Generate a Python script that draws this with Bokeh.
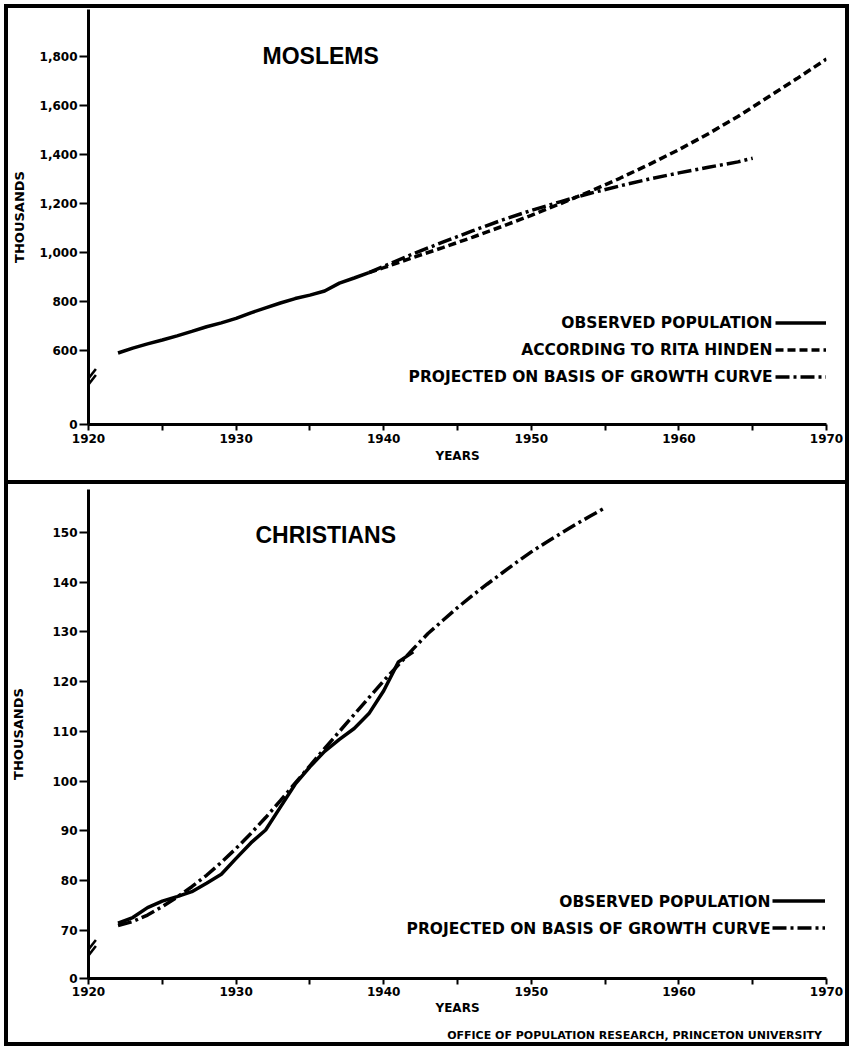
import numpy as np
from bokeh.plotting import figure
from bokeh.models import (Range1d, FixedTicker, Label, Legend, LegendItem, Div,
                          NumeralTickFormatter)
from bokeh.layouts import column
from bokeh.embed import file_html
from bokeh.resources import INLINE

# ---------------- data ----------------
moslem_obs_years = [1922, 1923, 1924, 1925, 1926, 1927, 1928, 1929, 1930, 1931,
                    1932, 1933, 1934, 1935, 1936, 1937, 1938, 1939]
moslem_obs = [590, 610, 627, 643, 660, 678, 697, 713, 731, 754,
              774, 794, 812, 826, 843, 875, 896, 918]

hinden_years = [1939, 1940, 1942, 1944, 1946, 1948, 1950, 1952, 1954, 1956,
                1958, 1960, 1962, 1964, 1966, 1968, 1970]
hinden = [918, 938, 980, 1020, 1062, 1106, 1152, 1200, 1250, 1303,
          1360, 1420, 1485, 1555, 1633, 1710, 1790]

moslem_proj_years = [1939, 1940, 1942, 1944, 1946, 1948, 1950, 1952, 1954, 1956,
                     1958, 1960, 1962, 1964, 1965]
moslem_proj = [918, 944, 995, 1042, 1088, 1132, 1172, 1208, 1242, 1272,
               1300, 1325, 1348, 1370, 1385]

christ_obs_years = [1922, 1923, 1924, 1925, 1926, 1927, 1928, 1929, 1930, 1931,
                    1932, 1933, 1934, 1935, 1936, 1937, 1938, 1939, 1940, 1941, 1942]
christ_obs = [71.5, 72.6, 74.6, 75.9, 76.8, 77.8, 79.5, 81.3, 84.5, 87.6,
              90.2, 94.8, 99.4, 102.9, 106.0, 108.4, 110.6, 113.6, 118.2, 124.0, 126.0]

christ_proj_years = [1922, 1923, 1924, 1925, 1926, 1927, 1928, 1929, 1930, 1931,
                     1932, 1933, 1934, 1935, 1936, 1937, 1938, 1939, 1940, 1941,
                     1942, 1943, 1944, 1945, 1946, 1947, 1948, 1949, 1950, 1951,
                     1952, 1953, 1954, 1955]
christ_proj = [71.0, 71.8, 73.1, 74.8, 76.7, 78.8, 81.1, 83.7, 86.5, 89.5,
               92.7, 96.1, 99.6, 103.1, 106.6, 110.0, 113.4, 116.8, 120.2, 123.4,
               126.6, 129.7, 132.3, 134.9, 137.3, 139.6, 141.8, 144.0, 146.1, 148.0,
               149.8, 151.6, 153.3, 155.0]

year_ticks = [1920, 1930, 1940, 1950, 1960, 1970]
year_minor_ticks = [1925, 1935, 1945, 1955, 1965]
moslem_ticks = [600, 800, 1000, 1200, 1400, 1600, 1800]
christ_ticks = [70, 80, 90, 100, 110, 120, 130, 140, 150]

credit = "OFFICE OF POPULATION RESEARCH, PRINCETON UNIVERSITY"

# ---------------- styling ----------------
FONT = "DejaVu Sans"
TFONT = "Liberation Sans"
W = 837
H1, HSEP, H2, HCRED = 472, 4, 546, 12
SOLID = dict(line_width=3.5, color="black")
DASHED = dict(line_width=3.5, color="black", line_dash="8 4")
DASHDOT = dict(line_width=3.5, color="black", line_dash="14 4 3 4")
LEG_SIZE = "15.5px"


def base_fig(height, yr, left, right, top, bottom):
    p = figure(width=W, height=height, x_range=Range1d(1920, 1970), y_range=yr,
               output_backend="svg", toolbar_location=None,
               min_border_left=left, min_border_right=right,
               min_border_top=top, min_border_bottom=bottom)
    p.outline_line_color = None
    p.grid.visible = False
    p.background_fill_color = "white"
    p.border_fill_color = "white"
    return p


def style_axes(p, ticks, zero_pos, label_standoff, fmt, x_standoff):
    xa = p.xaxis[0]
    xa.ticker = FixedTicker(ticks=year_ticks, minor_ticks=year_minor_ticks)
    xa.axis_label = "YEARS"
    xa.axis_line_width = 3
    xa.major_tick_line_width = 2
    xa.minor_tick_line_width = 2
    xa.major_tick_in = 0
    xa.major_tick_out = 6
    xa.minor_tick_in = 0
    xa.minor_tick_out = 6
    xa.major_label_standoff = x_standoff
    xa.major_label_text_font = FONT
    xa.major_label_text_font_style = "bold"
    xa.major_label_text_font_size = "12px"
    xa.major_label_text_color = "black"
    xa.axis_label_text_font = FONT
    xa.axis_label_text_font_style = "bold"
    xa.axis_label_text_font_size = "12px"
    xa.axis_label_text_color = "black"
    xa.axis_label_standoff = x_standoff

    ya = p.yaxis[0]
    ya.ticker = FixedTicker(ticks=[zero_pos] + ticks, minor_ticks=[])
    ya.formatter = fmt
    ya.major_label_overrides = {zero_pos: "0"}
    ya.axis_label = "THOUSANDS"
    ya.axis_line_width = 3
    ya.major_tick_line_width = 2
    ya.major_tick_in = 0
    ya.major_tick_out = 9
    ya.major_label_standoff = 2
    ya.major_label_text_font = FONT
    ya.major_label_text_font_style = "bold"
    ya.major_label_text_font_size = "12px"
    ya.major_label_text_color = "black"
    ya.axis_label_text_font = FONT
    ya.axis_label_text_font_style = "bold"
    ya.axis_label_text_font_size = "13px"
    ya.axis_label_text_color = "black"
    ya.axis_label_standoff = label_standoff


def add_break(p, zero_pos, px_per_unit, px_above_zero):
    c = zero_pos + px_above_zero / px_per_unit
    d = 3.0 / px_per_unit
    p.scatter([1920, 1920], [c - d, c + d], marker="dash", size=24,
              angle=np.deg2rad(52), line_width=2.5, color="black")


def text_label(p, x, y, text, size, align="right", font=FONT):
    p.add_layout(Label(x=x, y=y, x_units="screen", y_units="screen", text=text,
                       text_align=align, text_baseline="middle", text_font=font,
                       text_font_style="bold", text_font_size=size,
                       text_color="black"))


def key_legend(p, items, vx, vy):
    lg = Legend(items=[LegendItem(label="", renderers=[r]) for r in items],
                location=(vx, vy), glyph_width=53, glyph_height=27,
                label_height=27, label_width=0, label_standoff=0,
                spacing=0, padding=0, margin=0,
                border_line_color=None, background_fill_alpha=0,
                label_text_font_size="10px")
    p.add_layout(lg)


# ---------------- top panel: Moslems ----------------
z1 = 298
y1_top = 1992
p1 = base_fig(H1, Range1d(z1, y1_top), 80, 19, 1, 56)
style_axes(p1, moslem_ticks, z1, 10, NumeralTickFormatter(format="0,0"), 3)
r1 = p1.line(moslem_obs_years, moslem_obs, **SOLID)
r2 = p1.line(hinden_years, hinden, **DASHED)
r3 = p1.line(moslem_proj_years, moslem_proj, **DASHDOT)
add_break(p1, z1, 415 / (y1_top - z1), 43)
text_label(p1, 174, 369, "MOSLEMS", "23px", align="left", font=TFONT)
text_label(p1, 684, 102, "OBSERVED POPULATION", LEG_SIZE)
text_label(p1, 684, 75, "ACCORDING TO RITA HINDEN", LEG_SIZE)
text_label(p1, 684, 48, "PROJECTED ON BASIS OF GROWTH CURVE", LEG_SIZE)
key_legend(p1, [r1, r2, r3], 687, 34)

# ---------------- bottom panel: Christians ----------------
z2 = 60.35
y2_top = 158.64
p2 = base_fig(H2, Range1d(z2, y2_top), 80, 19, 5, 52)
style_axes(p2, christ_ticks, z2, 23, NumeralTickFormatter(format="0"), 2)
s1 = p2.line(christ_obs_years, christ_obs, **SOLID)
s2 = p2.line(christ_proj_years, christ_proj, **DASHDOT)
add_break(p2, z2, 489 / (y2_top - z2), 26)
text_label(p2, 167, 444, "CHRISTIANS", "23px", align="left", font=TFONT)
text_label(p2, 682, 77, "OBSERVED POPULATION", LEG_SIZE)
text_label(p2, 682, 50, "PROJECTED ON BASIS OF GROWTH CURVE", LEG_SIZE)
key_legend(p2, [s1, s2], 684, 37)

sep = Div(text="", width=W, height=HSEP, margin=0,
          styles={"background-color": "black"})
cred = Div(text=credit, width=W, height=HCRED, margin=0,
           styles={"text-align": "right", "font-family": FONT, "font-weight": "bold",
                   "font-size": "11px", "line-height": "12px", "color": "black",
                   "padding-right": "23px", "box-sizing": "border-box",
                   "background-color": "white", "overflow": "visible"})
layout = column(p1, sep, p2, cred, spacing=0, width=W,
                height=H1 + HSEP + H2 + HCRED,
                styles={"border": "4px solid black", "box-sizing": "content-box",
                        "margin": "4px 0 0 4px"})

open("out.html", "w").write(file_html(layout, INLINE))
